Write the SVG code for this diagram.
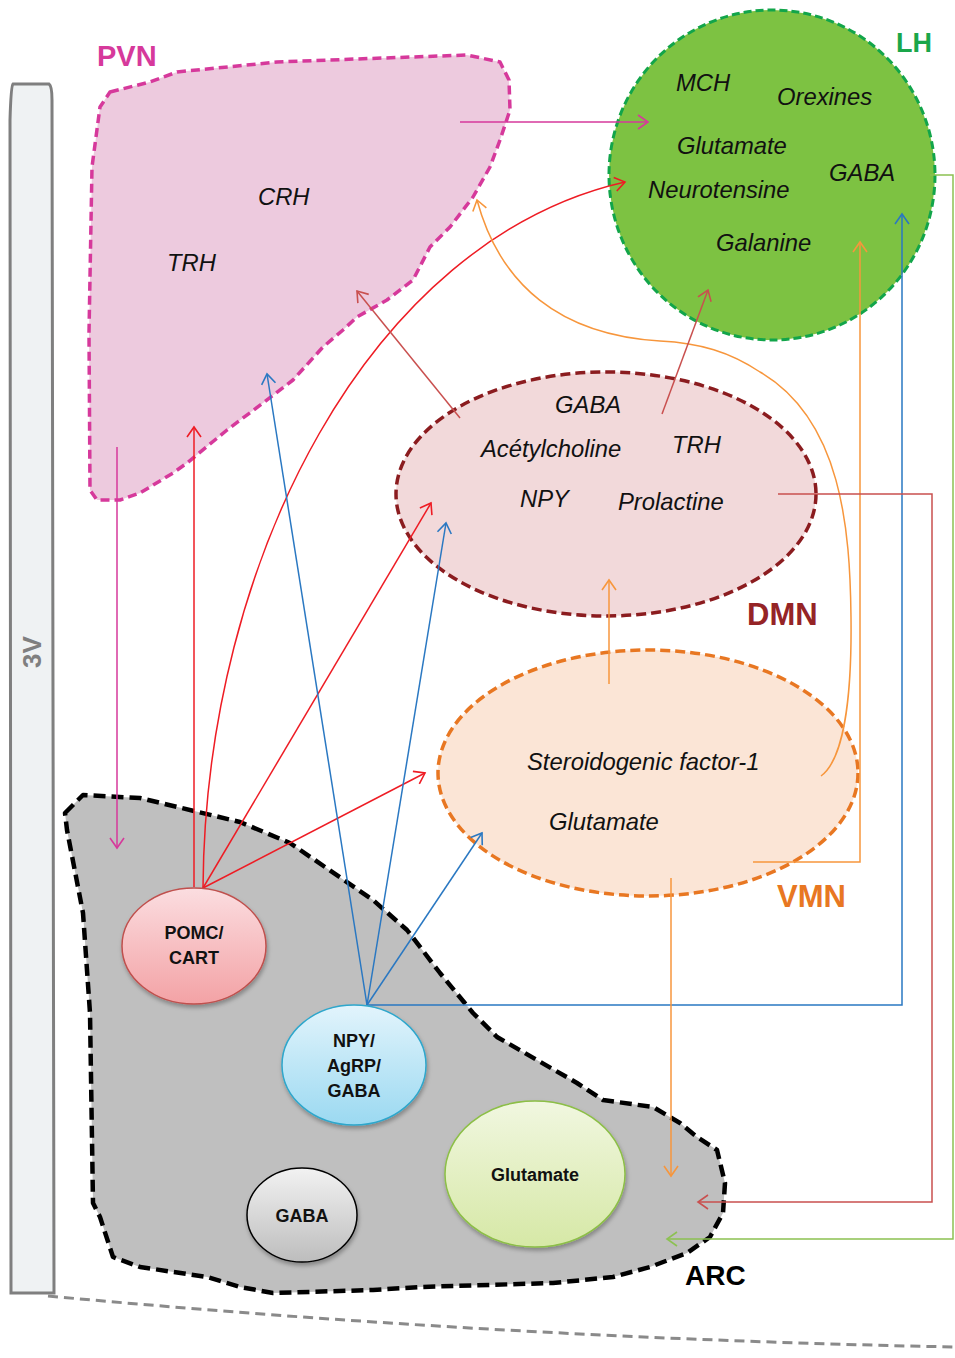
<svg xmlns="http://www.w3.org/2000/svg" width="955" height="1358" viewBox="0 0 955 1358">
<style>
.it{font-family:"Liberation Sans",Arial,sans-serif;font-style:italic;font-size:23.8px;fill:#111}
.nb{font-family:"Liberation Sans",Arial,sans-serif;font-weight:bold;font-size:18px;fill:#111;text-anchor:middle}
.rl{font-family:"Liberation Sans",Arial,sans-serif;font-weight:bold}
.ln{fill:none;stroke-width:1.5}
</style>
<defs>
<linearGradient id="gPomc" x1="0" y1="0" x2="0" y2="1"><stop offset="0" stop-color="#fbdde0"/><stop offset="1" stop-color="#f3a2a5"/></linearGradient>
<linearGradient id="gNpy" x1="0" y1="0" x2="0" y2="1"><stop offset="0" stop-color="#e2f4fc"/><stop offset="1" stop-color="#9bd9f1"/></linearGradient>
<linearGradient id="gGaba" x1="0" y1="0" x2="0" y2="1"><stop offset="0" stop-color="#f2f2f2"/><stop offset="1" stop-color="#bdbdbd"/></linearGradient>
<linearGradient id="gGlu" x1="0" y1="0" x2="0" y2="1"><stop offset="0" stop-color="#f1f7e0"/><stop offset="1" stop-color="#d6e8a6"/></linearGradient>
<filter id="sh" x="-20%" y="-20%" width="140%" height="140%"><feDropShadow dx="1" dy="3" stdDeviation="2" flood-color="#000" flood-opacity="0.3"/></filter>
<marker id="mM" markerWidth="14" markerHeight="16" refX="12" refY="8" orient="auto" markerUnits="userSpaceOnUse"><path d="M2,1 L12,8 L2,15" fill="none" stroke="#d6399b" stroke-width="1.6"/></marker>
<marker id="mR" markerWidth="14" markerHeight="16" refX="12" refY="8" orient="auto" markerUnits="userSpaceOnUse"><path d="M2,1 L12,8 L2,15" fill="none" stroke="#ee1c24" stroke-width="1.6"/></marker>
<marker id="mB" markerWidth="14" markerHeight="16" refX="12" refY="8" orient="auto" markerUnits="userSpaceOnUse"><path d="M2,1 L12,8 L2,15" fill="none" stroke="#2a78c2" stroke-width="1.6"/></marker>
<marker id="mO" markerWidth="14" markerHeight="16" refX="12" refY="8" orient="auto" markerUnits="userSpaceOnUse"><path d="M2,1 L12,8 L2,15" fill="none" stroke="#f7963c" stroke-width="1.6"/></marker>
<marker id="mD" markerWidth="14" markerHeight="16" refX="12" refY="8" orient="auto" markerUnits="userSpaceOnUse"><path d="M2,1 L12,8 L2,15" fill="none" stroke="#c9504f" stroke-width="1.6"/></marker>
<marker id="mG" markerWidth="14" markerHeight="16" refX="12" refY="8" orient="auto" markerUnits="userSpaceOnUse"><path d="M2,1 L12,8 L2,15" fill="none" stroke="#8cc152" stroke-width="1.6"/></marker>
</defs>
<rect width="955" height="1358" fill="#ffffff"/>

<g id="v3">
<path d="M13,84 L49,84 Q52,86 52,100 L54,1293 L11,1293 L10,120 Q11,86 13,84 Z" fill="#eff2f3" stroke="#7f7f7f" stroke-width="3"/>
<text class="rl" transform="translate(41,652) rotate(-90)" font-size="26" fill="#7f7f7f" text-anchor="middle">3V</text>
</g>
<path id="floor" d="M48,1296 Q500,1338 955,1347" fill="none" stroke="#8a8a8a" stroke-width="3" stroke-dasharray="10,6"/>

<g id="pvn">
<path d="M110,92 L150,82 L177,72 L277,62 L383,58 L467,55 L500,62 L509,80 L510,110 L500,140 L490,167 L473,197 L450,227 L430,247 L413,280 L387,300 L357,317 L343,330 L323,347 L293,380 L263,403 L227,430 L187,463 L173,473 L140,493 L120,500 L97,500 L90,490 L89,333 L92,167 L100,107 Z" fill="#edcade" stroke="#d6399b" stroke-width="3.5" stroke-dasharray="9,5" stroke-linejoin="round"/>
<text class="rl" x="97" y="66" font-size="29" fill="#d6399b">PVN</text>
<text class="it" x="258" y="205">CRH</text>
<text class="it" x="167" y="271">TRH</text>
</g>

<g id="lh">
<ellipse cx="772" cy="175" rx="163" ry="165" fill="#7dc242" stroke="#12a54a" stroke-width="3" stroke-dasharray="8,4"/>
<text class="rl" x="896" y="52" font-size="27" fill="#1aa64a">LH</text>
<text class="it" x="676" y="91">MCH</text>
<text class="it" x="777" y="105">Orexines</text>
<text class="it" x="677" y="154">Glutamate</text>
<text class="it" x="829" y="181">GABA</text>
<text class="it" x="648" y="198">Neurotensine</text>
<text class="it" x="716" y="251">Galanine</text>
</g>

<g id="dmn">
<ellipse cx="606" cy="494" rx="210" ry="122" fill="#f2d9da" stroke="#8b1c1f" stroke-width="3.5" stroke-dasharray="10,5"/>
<text class="rl" x="747" y="625" font-size="31" fill="#952426">DMN</text>
<text class="it" x="555" y="413">GABA</text>
<text class="it" x="481" y="457">Acétylcholine</text>
<text class="it" x="672" y="453">TRH</text>
<text class="it" x="520" y="507">NPY</text>
<text class="it" x="618" y="510">Prolactine</text>
</g>

<g id="vmn">
<ellipse cx="648" cy="773" rx="210" ry="123" fill="#fbe5d6" stroke="#e87722" stroke-width="3.5" stroke-dasharray="10,5"/>
<text class="rl" x="777" y="907" font-size="31" fill="#e87722">VMN</text>
<text class="it" x="527" y="770">Steroidogenic factor-1</text>
<text class="it" x="549" y="830">Glutamate</text>
</g>

<g id="arc">
<path d="M65,813 L83,795 L140,798 L240,822 L290,843 L373,900 L407,930 L440,973 L473,1013 L497,1037 L537,1060 L577,1083 L603,1100 L653,1107 L680,1123 L697,1137 L717,1150 L725,1183 L723,1213 L710,1237 L687,1253 L650,1267 L613,1277 L553,1283 L420,1287 L373,1290 L273,1293 L240,1287 L207,1277 L140,1267 L113,1257 L100,1217 L93,1203 L90,1013 L83,913 L67,830 Z" fill="#bfbfbf" stroke="#000" stroke-width="4.5" stroke-dasharray="12,6" stroke-linejoin="round"/>
<text class="rl" x="685" y="1285" font-size="28" fill="#000">ARC</text>
</g>

<g id="connectors">
<line class="ln" x1="460" y1="122" x2="648" y2="122" stroke="#d6399b" marker-end="url(#mM)"/>
<line class="ln" x1="117" y1="447" x2="117" y2="848" stroke="#d6399b" marker-end="url(#mM)"/>
<line class="ln" x1="194" y1="887" x2="194" y2="427" stroke="#ee1c24" marker-end="url(#mR)"/>
<path class="ln" d="M203,888 C205,560 370,240 625,182" stroke="#ee1c24" marker-end="url(#mR)"/>
<line class="ln" x1="203" y1="888" x2="431" y2="503" stroke="#ee1c24" marker-end="url(#mR)"/>
<line class="ln" x1="203" y1="888" x2="425" y2="773" stroke="#ee1c24" marker-end="url(#mR)"/>
<line class="ln" x1="367" y1="1005" x2="267" y2="374" stroke="#2a78c2" marker-end="url(#mB)"/>
<line class="ln" x1="367" y1="1005" x2="446" y2="523" stroke="#2a78c2" marker-end="url(#mB)"/>
<line class="ln" x1="367" y1="1005" x2="482" y2="833" stroke="#2a78c2" marker-end="url(#mB)"/>
<path class="ln" d="M367,1005 H902 V214" stroke="#2a78c2" marker-end="url(#mB)"/>
<line class="ln" x1="609" y1="684" x2="609" y2="580" stroke="#f7963c" marker-end="url(#mO)"/>
<line class="ln" x1="671" y1="878" x2="671" y2="1176" stroke="#f7963c" marker-end="url(#mO)"/>
<path class="ln" d="M753,862 H860 V242" stroke="#f7963c" marker-end="url(#mO)"/>
<path class="ln" d="M821,776 C843,760 852,700 851,617 C850,530 842,420 760,372 C730,352 700,343 660,341 C560,335 500,285 477,200" stroke="#f7963c" marker-end="url(#mO)"/>
<line class="ln" x1="460" y1="418" x2="357" y2="291" stroke="#c9504f" marker-end="url(#mD)"/>
<line class="ln" x1="662" y1="414" x2="708" y2="290" stroke="#c9504f" marker-end="url(#mD)"/>
<path class="ln" d="M778,494 H932 V1202 H698" stroke="#c9504f" marker-end="url(#mD)"/>
<path class="ln" d="M930,175 H953 V1239 H667" stroke="#8cc152" marker-end="url(#mG)"/>
</g>

<g id="pomc">
<ellipse cx="194" cy="946" rx="72" ry="58" fill="url(#gPomc)" stroke="#c0504d" stroke-width="1.5" filter="url(#sh)"/>
<text class="nb" x="194" y="939">POMC/</text>
<text class="nb" x="194" y="964">CART</text>
</g>
<g id="npy">
<ellipse cx="354" cy="1065" rx="72" ry="60" fill="url(#gNpy)" stroke="#2ea7cc" stroke-width="1.5" filter="url(#sh)"/>
<text class="nb" x="354" y="1047">NPY/</text>
<text class="nb" x="354" y="1072">AgRP/</text>
<text class="nb" x="354" y="1097">GABA</text>
</g>
<g id="gaba">
<ellipse cx="302" cy="1215" rx="55" ry="47" fill="url(#gGaba)" stroke="#000" stroke-width="1.5" filter="url(#sh)"/>
<text class="nb" x="302" y="1222">GABA</text>
</g>
<g id="glu">
<ellipse cx="535" cy="1174" rx="90" ry="73" fill="url(#gGlu)" stroke="#8cbf46" stroke-width="1.5" filter="url(#sh)"/>
<text class="nb" x="535" y="1181">Glutamate</text>
</g>
</svg>
